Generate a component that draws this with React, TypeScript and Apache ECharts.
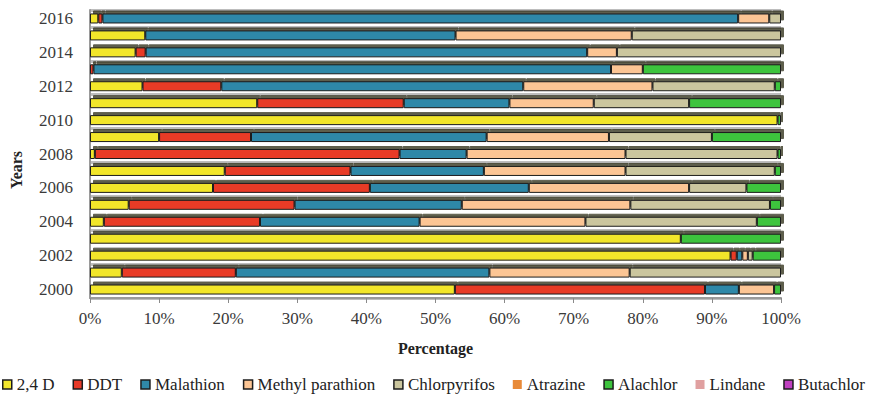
import React, { useEffect, useRef } from "react";
import * as echarts from "echarts";

// Years on the category axis, bottom to top
const years = [
  "2000", "2001", "2002", "2003", "2004", "2005", "2006", "2007", "2008",
  "2009", "2010", "2011", "2012", "2013", "2014", "2015", "2016",
];

// Share (%) of each pesticide per year, in the same order as `years`
const twoFourD = [52.8, 4.6, 92.7, 85.5, 2.0, 5.6, 17.8, 19.5, 0.7, 10.0, 99.5, 24.2, 7.6, 0, 6.6, 8.0, 1.2];
const ddt = [36.2, 16.5, 0.9, 0, 22.6, 24.0, 22.7, 18.2, 44.1, 13.3, 0, 21.2, 11.4, 0.5, 1.45, 0, 0.6];
const malathion = [4.9, 36.7, 0.8, 0, 23.1, 24.2, 23.0, 19.3, 9.7, 34.1, 0, 15.3, 43.7, 74.9, 63.9, 44.9, 92.0];
const methylParathion = [5.1, 20.3, 0.8, 0, 24.0, 24.4, 23.2, 20.5, 23.0, 17.7, 0, 12.2, 18.7, 4.6, 4.3, 25.5, 4.5];
const chlorpyrifos = [0, 21.9, 0.7, 0, 24.8, 20.2, 8.3, 21.6, 22.0, 14.9, 0, 13.8, 17.7, 0, 23.75, 21.6, 1.7];
const atrazine = [0, 0, 0, 0, 0, 0, 0, 0, 0, 0, 0, 0, 0, 0, 0, 0, 0];
const alachlor = [1.0, 0, 4.1, 14.5, 3.5, 1.6, 5.0, 0.9, 0.5, 10.0, 0.5, 13.3, 0.9, 20.0, 0, 0, 0];
const lindane = [0, 0, 0, 0, 0, 0, 0, 0, 0, 0, 0, 0, 0, 0, 0, 0, 0];
const butachlor = [0, 0, 0, 0, 0, 0, 0, 0, 0, 0, 0, 0, 0, 0, 0, 0, 0];

const seriesNames = [
  "2,4 D", "DDT", "Malathion", "Methyl parathion", "Chlorpyrifos",
  "Atrazine", "Alachlor", "Lindane", "Butachlor",
];
const seriesValues = [
  twoFourD, ddt, malathion, methylParathion, chlorpyrifos,
  atrazine, alachlor, lindane, butachlor,
];
const seriesColors = [
  "#f2e62c", "#e83a28", "#2f88a8", "#fcc594", "#cbc69e",
  "#e88a38", "#3ec43e", "#e0a0a0", "#c040c0",
];
const xTicks = { min: 0, max: 100, interval: 10 };

const FONT = "'Liberation Serif', 'Times New Roman', serif";

export default function App() {
  const ref = useRef<HTMLDivElement>(null);

  useEffect(() => {
    if (!ref.current) return;
    const chart = echarts.init(ref.current, undefined, { renderer: "svg" });

    const series = seriesNames.map((name, i) => ({
      name,
      type: "bar" as const,
      stack: "total",
      barWidth: 10,
      data: seriesValues[i].map((v) => (v === 0 ? null : v)),
      itemStyle: {
        color: seriesColors[i],
        borderColor: "#1c1c1c",
        borderWidth: 1,
        shadowColor: "rgba(40,40,20,0.75)",
        shadowBlur: 0,
        shadowOffsetX: 3,
        shadowOffsetY: -3,
      },
    }));

    chart.setOption({
      animation: false,
      backgroundColor: "#ffffff",
      grid: { left: 90, right: 92, top: 10, bottom: 97, containLabel: false },
      xAxis: {
        type: "value",
        min: xTicks.min,
        max: xTicks.max,
        interval: xTicks.interval,
        name: "Percentage",
        nameLocation: "middle",
        nameGap: 42,
        nameTextStyle: { fontFamily: FONT, fontSize: 16, fontWeight: "bold", color: "#222" },
        axisLine: { show: true, lineStyle: { color: "#9a9a9a", width: 2 } },
        axisTick: { show: true, length: 5, lineStyle: { color: "#8a8a8a" } },
        axisLabel: {
          formatter: "{value}%",
          fontFamily: FONT,
          fontSize: 17,
          color: "#3a3a3a",
          margin: 12,
        },
        splitLine: { show: false },
      },
      yAxis: {
        type: "category",
        data: years,
        axisLine: { show: true, lineStyle: { color: "#9a9a9a", width: 2 } },
        axisTick: { show: false },
        axisLabel: {
          interval: 1,
          fontFamily: FONT,
          fontSize: 17,
          color: "#3a3a3a",
          margin: 17,
        },
        splitLine: { show: true, lineStyle: { color: "#bdbdbd", width: 3 } },
      },
      legend: {
        left: 2,
        top: 376,
        padding: 0,
        itemWidth: 9,
        itemHeight: 9,
        itemGap: 18,
        icon: "rect",
        textStyle: { fontFamily: FONT, fontSize: 17, color: "#222" },
        itemStyle: { shadowColor: "transparent", shadowOffsetX: 0, shadowOffsetY: 0 },
        data: seriesNames.map((name) =>
          name === "Atrazine" || name === "Lindane"
            ? { name, itemStyle: { borderWidth: 0 } }
            : { name, itemStyle: { borderWidth: 1.5, borderColor: "#1c1c1c" } }
        ),
      },
      graphic: [
        {
          type: "text",
          x: 16,
          y: 170,
          rotation: Math.PI / 2,
          style: {
            text: "Years",
            fontFamily: FONT,
            fontSize: 16,
            fontWeight: "bold",
            fill: "#222",
            textAlign: "center",
            textVerticalAlign: "middle",
          },
        },
      ],
      series,
    });

    return () => chart.dispose();
  }, []);

  return (
    <div
      ref={ref}
      style={{ position: "absolute", left: 0, top: 0, width: 873, height: 395 }}
    />
  );
}
